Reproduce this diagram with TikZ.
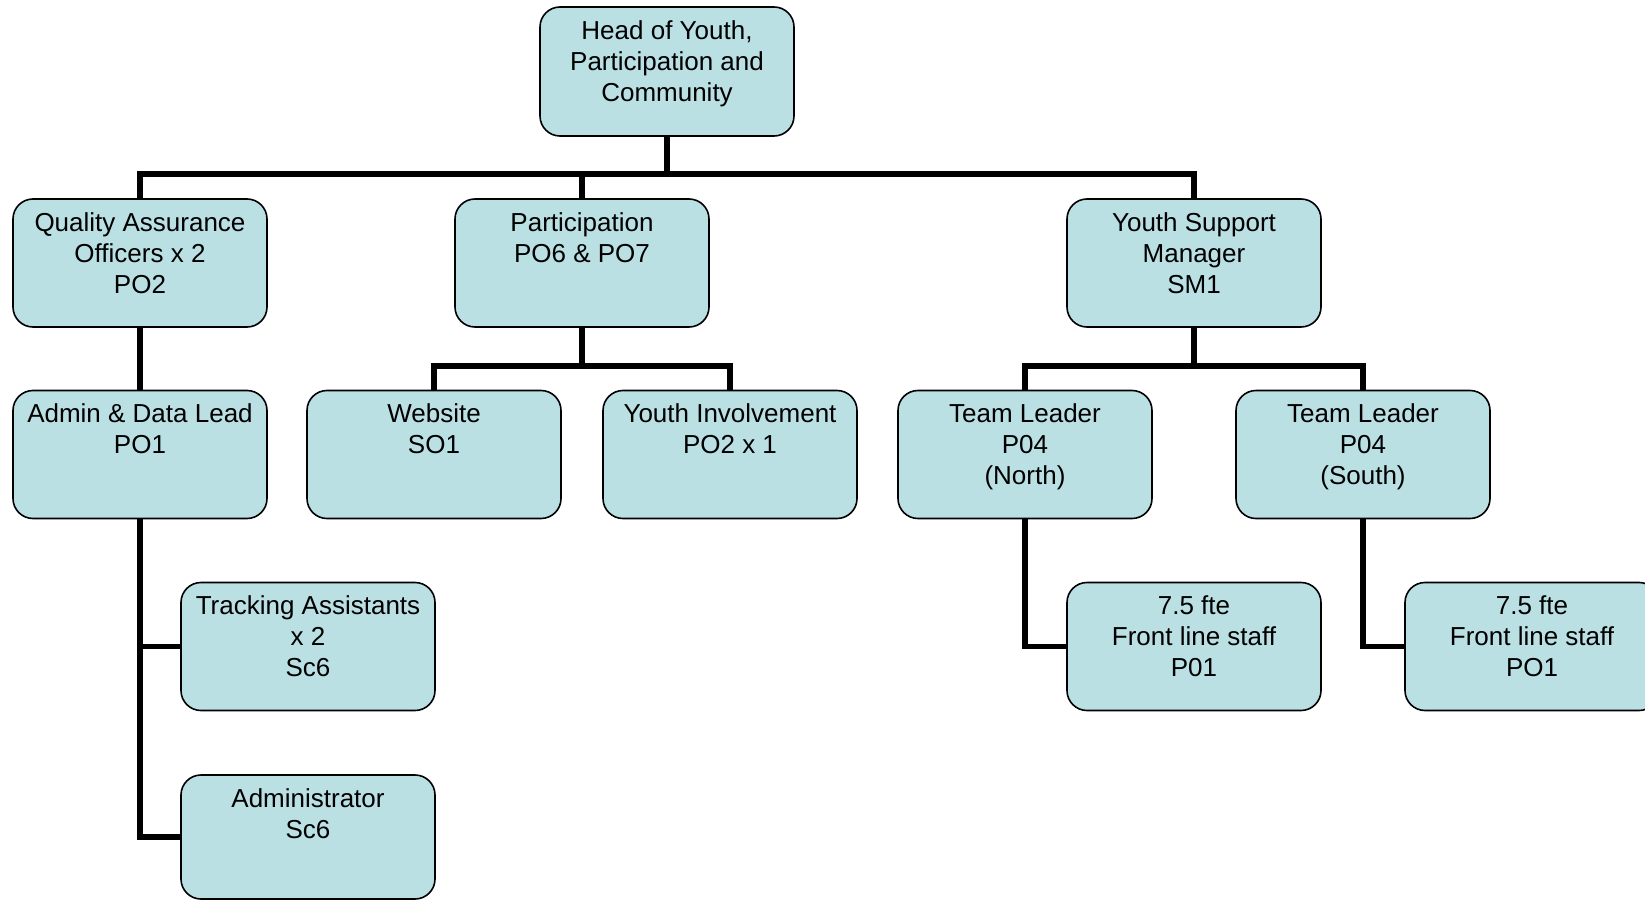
\documentclass[tikz,border=0pt]{standalone}
\usepackage{fontspec}
\setmainfont{Liberation Sans}
\definecolor{boxfill}{RGB}{186,224,228}
\tikzset{
  orgbox/.style={draw=black, line width=1.6pt, fill=boxfill, rounded corners=20pt,
    minimum width=254pt, minimum height=128pt, inner sep=0pt, shape=rectangle},
  orgtxt/.style={anchor=north, align=center, inner sep=0pt,
    font=\fontsize{26}{31}\selectfont},
  conn/.style={draw=black, line width=5.5pt, line join=miter}
}
\begin{document}
\begin{tikzpicture}[x=1pt,y=-1pt]
\useasboundingbox (0,0) rectangle (1645,901);
% boxes
\node[orgbox, minimum height=129pt] (head) at (667,71.5) {};
\node[orgbox] (qa) at (140,263) {};
\node[orgbox] (part) at (582,263) {};
\node[orgbox] (ysm) at (1194,263) {};
\node[orgbox] (admin) at (140,454.5) {};
\node[orgbox] (web) at (434,454.5) {};
\node[orgbox] (yi) at (730,454.5) {};
\node[orgbox] (tln) at (1025,454.5) {};
\node[orgbox] (tls) at (1363,454.5) {};
\node[orgbox] (track) at (308,646.5) {};
\node[orgbox] (fla) at (1194,646.5) {};
\node[orgbox] (flb) at (1532,646.5) {};
\node[orgbox, minimum height=124pt] (adm) at (308,837) {};
% texts
\node[orgtxt] (headt) at ([yshift=-14pt]head.north) {Head of Youth,\\Participation and\\Community};
\node[orgtxt] (qat) at ([yshift=-14pt]qa.north) {Quality Assurance\\Officers x 2\\PO2};
\node[orgtxt] (partt) at ([yshift=-14pt]part.north) {Participation\\PO6 \& PO7};
\node[orgtxt] (ysmt) at ([yshift=-14pt]ysm.north) {Youth Support\\Manager\\SM1};
\node[orgtxt] (admint) at ([yshift=-14pt]admin.north) {Admin \& Data Lead\\PO1};
\node[orgtxt] (webt) at ([yshift=-14pt]web.north) {Website\\SO1};
\node[orgtxt] (yit) at ([yshift=-14pt]yi.north) {Youth Involvement\\PO2 x 1};
\node[orgtxt] (tlnt) at ([yshift=-14pt]tln.north) {Team Leader\\P04\\(North)};
\node[orgtxt] (tlst) at ([yshift=-14pt]tls.north) {Team Leader\\P04\\(South)};
\node[orgtxt] (trackt) at ([yshift=-14pt]track.north) {Tracking Assistants\\x 2\\Sc6};
\node[orgtxt] (flat) at ([yshift=-14pt]fla.north) {7.5 fte\\Front line staff\\P01};
\node[orgtxt] (flbt) at ([yshift=-14pt]flb.north) {7.5 fte\\Front line staff\\PO1};
\node[orgtxt] (admt) at ([yshift=-14pt]adm.north) {Administrator\\Sc6};
% bus coordinates
\coordinate (bus) at (0,174);
\coordinate (subbus) at (0,366);
% connectors
\draw[conn] (head.south) -- (head.south |- bus);
\draw[conn] (qa.north) -- (qa.north |- bus) -- (ysm.north |- bus) -- (ysm.north);
\draw[conn] (part.north) -- (part.north |- bus);
\draw[conn] (qa.south) -- (admin.north);
\draw[conn] (part.south) -- (part.south |- subbus);
\draw[conn] (web.north) -- (web.north |- subbus) -- (yi.north |- subbus) -- (yi.north);
\draw[conn] (ysm.south) -- (ysm.south |- subbus);
\draw[conn] (tln.north) -- (tln.north |- subbus) -- (tls.north |- subbus) -- (tls.north);
\draw[conn] (admin.south) |- (track.west);
\draw[conn] (admin.south) |- (adm.west);
\draw[conn] (tln.south) |- (fla.west);
\draw[conn] (tls.south) |- (flb.west);
\end{tikzpicture}
\end{document}
